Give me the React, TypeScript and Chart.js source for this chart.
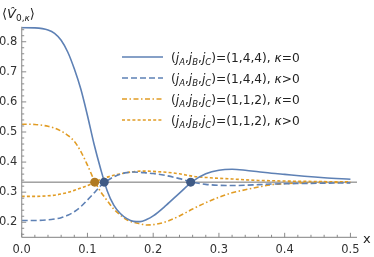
import { useEffect, useRef } from "react";
import { Chart, registerables } from "chart.js";

Chart.register(...registerables);

// ---- data ----
const xs = [0, 0.02, 0.04, 0.05, 0.06, 0.07, 0.08, 0.09, 0.1, 0.11, 0.12, 0.13, 0.14, 0.15, 0.16, 0.17, 0.18, 0.19, 0.2, 0.22, 0.24, 0.26, 0.28, 0.3, 0.32, 0.34, 0.36, 0.38, 0.4, 0.43, 0.46, 0.5];
const blueKappa0 = [0.847, 0.846, 0.839, 0.828, 0.805, 0.766, 0.71, 0.642, 0.555, 0.46, 0.378, 0.305, 0.257, 0.229, 0.212, 0.203, 0.202, 0.209, 0.221, 0.257, 0.297, 0.336, 0.361, 0.373, 0.376, 0.373, 0.368, 0.363, 0.359, 0.353, 0.348, 0.343];
const blueKappaPos = [0.206, 0.206, 0.208, 0.211, 0.215, 0.223, 0.235, 0.252, 0.274, 0.297, 0.321, 0.338, 0.351, 0.36, 0.365, 0.367, 0.366, 0.364, 0.362, 0.355, 0.345, 0.333, 0.326, 0.323, 0.322, 0.323, 0.325, 0.327, 0.328, 0.329, 0.33, 0.331];
const orangeKappa0 = [0.526, 0.525, 0.519, 0.513, 0.503, 0.489, 0.469, 0.435, 0.39, 0.341, 0.302, 0.272, 0.244, 0.224, 0.208, 0.2, 0.195, 0.191, 0.192, 0.202, 0.221, 0.244, 0.265, 0.283, 0.298, 0.308, 0.317, 0.325, 0.328, 0.331, 0.332, 0.332];
const orangeKappaPos = [0.286, 0.286, 0.288, 0.29, 0.294, 0.299, 0.306, 0.314, 0.322, 0.332, 0.342, 0.35, 0.356, 0.361, 0.365, 0.368, 0.37, 0.37, 0.369, 0.366, 0.361, 0.353, 0.349, 0.346, 0.344, 0.341, 0.339, 0.338, 0.337, 0.336, 0.335, 0.334];

const refValue = 1 / 3;
const orangeCrossX = [0.111];
const blueCrossX = [0.1255, 0.257];

const xTicks = [0, 0.1, 0.2, 0.3, 0.4, 0.5];
const xTickLabels = ["0.0", "0.1", "0.2", "0.3", "0.4", "0.5"];
const yTicks = [0.2, 0.3, 0.4, 0.5, 0.6, 0.7, 0.8];
const yTickLabels = ["0.2", "0.3", "0.4", "0.5", "0.6", "0.7", "0.8"];
const xMinor = [0.02, 0.04, 0.06, 0.08, 0.12, 0.14, 0.16, 0.18, 0.22, 0.24, 0.26, 0.28, 0.32, 0.34, 0.36, 0.38, 0.42, 0.44, 0.46, 0.48];
const yMinor = [0.16, 0.18, 0.22, 0.24, 0.26, 0.28, 0.32, 0.34, 0.36, 0.38, 0.42, 0.44, 0.46, 0.48, 0.52, 0.54, 0.56, 0.58, 0.62, 0.64, 0.66, 0.68, 0.72, 0.74, 0.76, 0.78, 0.82, 0.84];

const legendTriples = ["1,4,4", "1,4,4", "1,1,2", "1,1,2"];
const legendKappa = ["=0", ">0", "=0", ">0"];

const BLUE = "#5E81B5";
const ORANGE = "#E19C24";
const BLUE_DOT = "#3F5A85";
const ORANGE_DOT = "#B07A22";
const FONT = "'DejaVu Sans', sans-serif";

type Part = { t: string; it?: boolean; sub?: boolean };

function drawRich(ctx: CanvasRenderingContext2D, parts: Part[], x: number, base: number, size: number) {
  let cx = x;
  for (const p of parts) {
    const s = p.sub ? size * 0.7 : size;
    ctx.font = `${p.it ? "italic " : ""}${s}px ${FONT}`;
    ctx.fillText(p.t, cx, p.sub ? base + size * 0.25 : base);
    cx += ctx.measureText(p.t).width;
  }
  return cx;
}

const decorPlugin = {
  id: "decor",
  beforeDatasetsDraw(chart: any) {
    const { ctx, scales } = chart;
    const x = scales.x, y = scales.y;
    ctx.save();
    ctx.strokeStyle = "#707070";
    ctx.lineWidth = 1;
    const yy = y.getPixelForValue(refValue);
    ctx.beginPath();
    ctx.moveTo(x.getPixelForValue(x.min), yy);
    ctx.lineTo(x.getPixelForValue(x.max), yy);
    ctx.stroke();
    ctx.restore();
  },
  afterDraw(chart: any) {
    const { ctx, scales } = chart;
    const x = scales.x, y = scales.y;
    const x0 = x.getPixelForValue(0);
    const xEnd = x.getPixelForValue(x.max);
    const yB = y.getPixelForValue(y.min);
    const yT = y.getPixelForValue(y.max);
    ctx.save();
    // axes
    ctx.strokeStyle = "#9a9a9a";
    ctx.lineWidth = 1.2;
    ctx.beginPath();
    ctx.moveTo(x0, yB);
    ctx.lineTo(x0, yT);
    ctx.moveTo(x0, yB);
    ctx.lineTo(xEnd, yB);
    ctx.stroke();
    ctx.lineWidth = 1;
    ctx.strokeStyle = "#8a8a8a";
    ctx.beginPath();
    for (const v of xTicks) {
      const px = x.getPixelForValue(v);
      ctx.moveTo(px, yB);
      ctx.lineTo(px, yB - 4.5);
    }
    for (const v of xMinor) {
      const px = x.getPixelForValue(v);
      ctx.moveTo(px, yB);
      ctx.lineTo(px, yB - 2.5);
    }
    for (const v of yTicks) {
      const py = y.getPixelForValue(v);
      ctx.moveTo(x0, py);
      ctx.lineTo(x0 + 4.5, py);
    }
    for (const v of yMinor) {
      const py = y.getPixelForValue(v);
      ctx.moveTo(x0, py);
      ctx.lineTo(x0 + 2.5, py);
    }
    ctx.stroke();

    // tick labels
    ctx.fillStyle = "#333";
    ctx.font = `11.5px ${FONT}`;
    ctx.textAlign = "center";
    ctx.textBaseline = "alphabetic";
    xTicks.forEach((v, i) => {
      ctx.fillText(xTickLabels[i], x.getPixelForValue(v), yB + 15.5);
    });
    ctx.textAlign = "right";
    ctx.textBaseline = "middle";
    yTicks.forEach((v, i) => {
      ctx.fillText(yTickLabels[i], x0 - 4.5, y.getPixelForValue(v));
    });

    // axis titles
    ctx.textAlign = "left";
    ctx.textBaseline = "alphabetic";
    ctx.fillStyle = "#222";
    ctx.font = `13px ${FONT}`;
    ctx.fillText("x", xEnd + 6, yB + 6);

    let cx = 2;
    ctx.font = `13px ${FONT}`;
    ctx.fillText("\u27E8", cx, 18);
    cx += ctx.measureText("\u27E8").width;
    ctx.font = `italic 13px ${FONT}`;
    ctx.fillText("V\u0302", cx, 18);
    cx += ctx.measureText("V").width;
    ctx.font = `9px ${FONT}`;
    ctx.fillText("0,", cx, 21);
    cx += ctx.measureText("0,").width;
    ctx.font = `italic 9px ${FONT}`;
    ctx.fillText("\u03BA", cx, 21);
    cx += ctx.measureText("\u03BA").width;
    ctx.font = `13px ${FONT}`;
    ctx.fillText("\u27E9", cx, 18);

    // legend
    const lineDs = chart.data.datasets.filter((d: any) => d.isSeries);
    const rowY = [57, 78, 99, 120];
    lineDs.forEach((d: any, i: number) => {
      const ly = rowY[i];
      ctx.save();
      ctx.strokeStyle = d.borderColor;
      ctx.lineWidth = d.borderWidth;
      ctx.setLineDash(d.borderDash || []);
      ctx.beginPath();
      ctx.moveTo(122, ly);
      ctx.lineTo(163, ly);
      ctx.stroke();
      ctx.restore();
      ctx.fillStyle = "#222";
      drawRich(
        ctx,
        [
          { t: "(" },
          { t: "j", it: true },
          { t: "A", it: true, sub: true },
          { t: "," },
          { t: "j", it: true },
          { t: "B", it: true, sub: true },
          { t: "," },
          { t: "j", it: true },
          { t: "C", it: true, sub: true },
          { t: ")=(" + legendTriples[i] + "), " },
          { t: "\u03BA", it: true },
          { t: legendKappa[i] },
        ],
        171,
        ly + 5,
        12.2
      );
    });
    ctx.restore();
  },
};

function toPts(ys: number[]) {
  return xs.map((v, i) => ({ x: v, y: ys[i] }));
}

export default function App() {
  const ref = useRef<HTMLCanvasElement | null>(null);
  useEffect(() => {
    if (!ref.current) return;
    const common = {
      type: "line",
      fill: false,
      pointRadius: 0,
      borderWidth: 1.6,
      cubicInterpolationMode: "monotone",
      borderCapStyle: "butt",
      isSeries: true,
    };
    const chart = new Chart(ref.current, {
      type: "line",
      data: {
        datasets: [
          {
            type: "scatter",
            data: orangeCrossX.map((v) => ({ x: v, y: refValue })),
            pointRadius: 4.5,
            pointBackgroundColor: ORANGE_DOT,
            pointBorderWidth: 0,
            showLine: false,
          },
          {
            type: "scatter",
            data: blueCrossX.map((v) => ({ x: v, y: refValue })),
            pointRadius: 4.5,
            pointBackgroundColor: BLUE_DOT,
            pointBorderWidth: 0,
            showLine: false,
          },
          { ...common, label: "(1,4,4) k=0", data: toPts(blueKappa0), borderColor: BLUE, borderDash: [] },
          { ...common, label: "(1,4,4) k>0", data: toPts(blueKappaPos), borderColor: BLUE, borderDash: [6, 3] },
          { ...common, label: "(1,1,2) k=0", data: toPts(orangeKappa0), borderColor: ORANGE, borderDash: [5, 2.5, 1.5, 2.5] },
          { ...common, label: "(1,1,2) k>0", data: toPts(orangeKappaPos), borderColor: ORANGE, borderDash: [3, 2.2] },
        ] as any,
      },
      options: {
        animation: false,
        responsive: false,
        maintainAspectRatio: false,
        layout: { padding: { left: 21.7, top: 26.7, right: 17, bottom: 19.7 } },
        scales: {
          x: { type: "linear", min: 0, max: 0.51, display: false },
          y: { type: "linear", min: 0.15, max: 0.85, display: false },
        },
        plugins: { legend: { display: false }, tooltip: { enabled: false } },
      },
      plugins: [decorPlugin as any],
    } as any);
    return () => chart.destroy();
  }, []);
  return (
    <div style={{ position: "absolute", left: 0, top: 0, width: 374, height: 257, background: "#fff" }}>
      <canvas ref={ref} width={374} height={257} style={{ display: "block", width: 374, height: 257 }} />
    </div>
  );
}
